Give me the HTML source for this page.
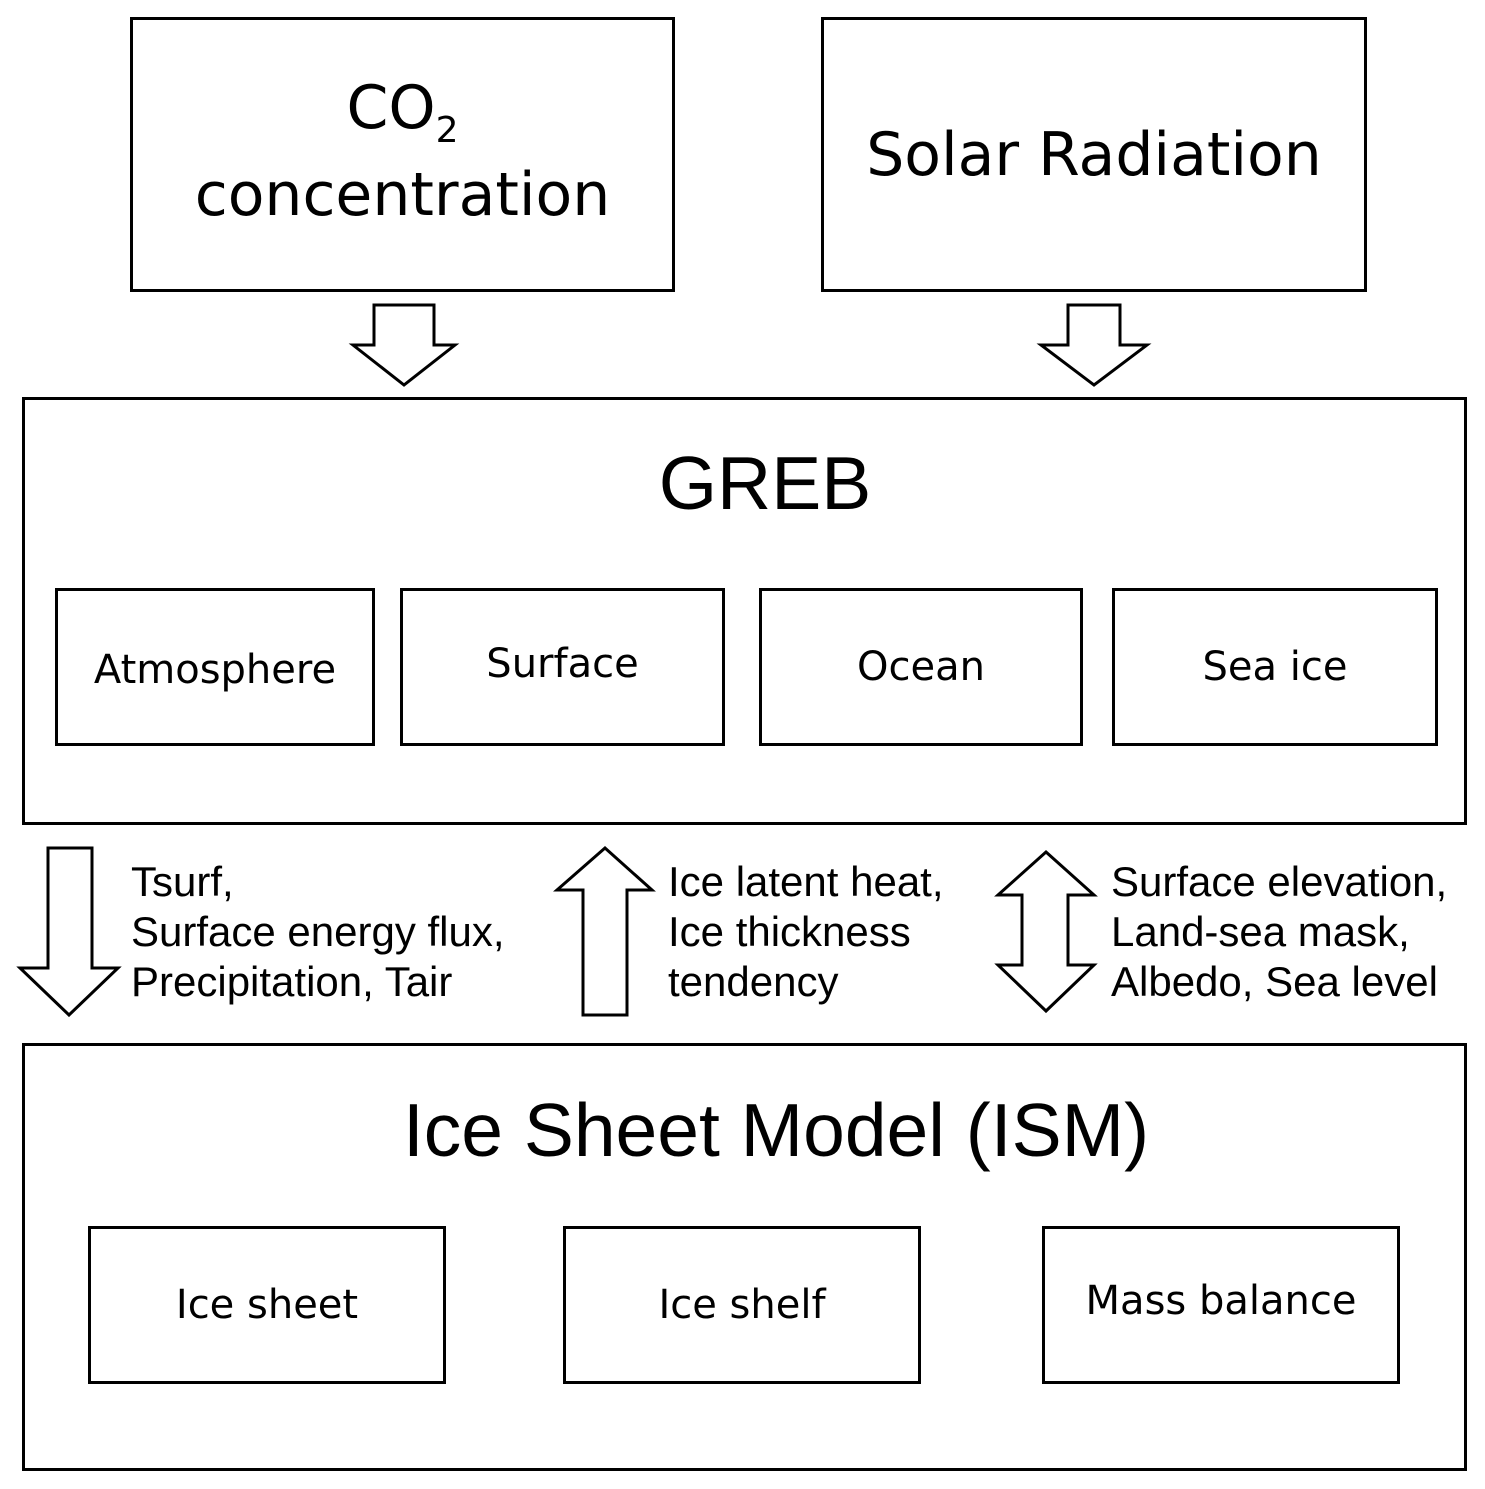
<!DOCTYPE html>
<html><head><meta charset="utf-8"><style>
body{margin:0;background:#fff;}
.b{position:absolute;border:3px solid #000;box-sizing:border-box;display:flex;align-items:center;justify-content:center;text-align:center;}
.c{font-family:"DejaVu Sans","Liberation Sans",sans-serif;font-size:40px;}
.t{position:absolute;font-family:"Liberation Sans",sans-serif;color:#000;}
.lbl{position:absolute;font-family:"Liberation Sans",sans-serif;font-size:42px;line-height:50px;white-space:nowrap;}
</style></head><body>
<div style="position:relative;width:1485px;height:1489px;overflow:hidden">
<div class="b c" style="left:130px;top:17px;width:545px;height:275px;font-size:60px;"><div style="line-height:78px;margin-top:-6px">CO<span style="font-size:36px;position:relative;top:14px">2</span><br>concentration</div></div>
<div class="b c" style="left:821px;top:17px;width:546px;height:275px;font-size:60px;">Solar Radiation</div>
<svg style="position:absolute;left:0;top:0" width="1485" height="1489">
<g fill="#fff" stroke="#000" stroke-width="3" stroke-linejoin="miter">
<polygon points="374,305 434,305 434,345 455,345 404,385 353,345 374,345"/>
<polygon points="1068,305 1120,305 1120,345 1147,345 1094,385 1041,345 1068,345"/>
<polygon points="48,848 92,848 92,968 118,968 69,1015 20,968 48,968"/>
<polygon points="583,1015 627,1015 627,890 652,890 605,848 557,890 583,890"/>
<polygon points="1046,852 1094,895 1068,895 1068,965 1094,965 1046,1011 998,965 1022,965 1022,895 998,895"/>
</g></svg>
<div class="b" style="left:22px;top:397px;width:1445px;height:428px;display:block;"></div>
<div class="t" style="left:0;width:1530px;top:440px;text-align:center;font-size:75px;">GREB</div>
<div class="b c" style="left:55px;top:588px;width:320px;height:158px;padding-top:6px">Atmosphere</div>
<div class="b c" style="left:400px;top:588px;width:325px;height:158px;padding-bottom:6px">Surface</div>
<div class="b c" style="left:759px;top:588px;width:324px;height:158px">Ocean</div>
<div class="b c" style="left:1112px;top:588px;width:326px;height:158px">Sea ice</div>
<div class="lbl" style="left:131px;top:857px">Tsurf,<br>Surface energy flux,<br>Precipitation, Tair</div>
<div class="lbl" style="left:668px;top:857px">Ice latent heat,<br>Ice thickness<br>tendency</div>
<div class="lbl" style="left:1111px;top:857px">Surface elevation,<br>Land-sea mask,<br>Albedo, Sea level</div>
<div class="b" style="left:22px;top:1043px;width:1445px;height:428px;display:block;"></div>
<div class="t" style="left:0;width:1552px;top:1087px;text-align:center;font-size:75px;">Ice Sheet Model (ISM)</div>
<div class="b c" style="left:88px;top:1226px;width:358px;height:158px">Ice sheet</div>
<div class="b c" style="left:563px;top:1226px;width:358px;height:158px">Ice shelf</div>
<div class="b c" style="left:1042px;top:1226px;width:358px;height:158px;padding-bottom:8px">Mass balance</div>
</div>
</body></html>
